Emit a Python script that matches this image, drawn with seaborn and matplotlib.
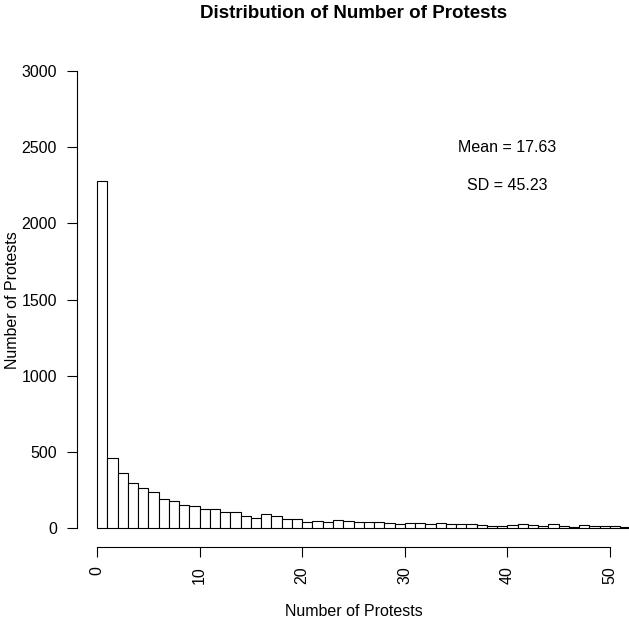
import numpy as np
import pandas as pd
import matplotlib
matplotlib.use("Agg")
import matplotlib.pyplot as plt
import seaborn as sns

# counts per one-unit bin, starting at 0
bin_left = list(range(0, 52))
counts = [2280, 460, 365, 295, 267, 236, 190, 179, 151, 144,
          127, 127, 105, 109, 83, 66, 93, 78, 59, 59,
          40, 47, 39, 53, 47, 44, 39, 39, 36, 29,
          32, 32, 31, 36, 27, 25, 25, 20, 14, 15,
          23, 28, 20, 14, 26, 17, 7, 20, 15, 13,
          13, 11]
mean_text = "Mean = 17.63"
sd_text = "SD = 45.23"

df = pd.DataFrame({"protests": [b + 0.5 for b in bin_left], "n": counts})

sns.set_style("ticks")
plt.rcParams["font.family"] = ["Liberation Sans", "DejaVu Sans"]
plt.rcParams["text.color"] = "black"
plt.rcParams["axes.labelcolor"] = "black"
plt.rcParams["xtick.color"] = "black"
plt.rcParams["ytick.color"] = "black"

W, H = 629, 624
fig = plt.figure(figsize=(W / 100, H / 100), dpi=100)
# plot region in pixels: left 76.5, right 630.5, top 52.7, bottom 546.6
ax = fig.add_axes([76.5 / W, 1 - 546.6 / H, (630.5 - 76.5) / W, (546.6 - 52.7) / H])

sns.histplot(data=df, x="protests", weights="n", binwidth=1, binrange=(0, 52),
             color="white", edgecolor="black", linewidth=0.8, alpha=1, ax=ax)

ax.set_xlim(-2, 52)
ax.set_ylim(-120, 3120)
ax.set_xticks([0, 10, 20, 30, 40, 50])
ax.set_yticks([0, 500, 1000, 1500, 2000, 2500, 3000])
ax.spines["left"].set_bounds(0, 3000)
ax.spines["bottom"].set_bounds(0, 50)
for s in ["top", "right"]:
    ax.spines[s].set_visible(False)
for s in ["left", "bottom"]:
    ax.spines[s].set_linewidth(0.8)
    ax.spines[s].set_color("black")
ax.tick_params(axis="both", length=7.2, width=0.8, color="black", labelsize=11.5)
ax.tick_params(axis="x", rotation=90, pad=7)
ax.tick_params(axis="y", pad=7)
ax.set_xlabel("")
ax.set_ylabel("")

cx = (76.5 + 630.5) / 2 / W
fig.text(cx, 1 - 13 / H, "Distribution of Number of Protests", ha="center",
         va="center", fontsize=13.5, fontweight="bold")
fig.text(cx, 1 - 612 / H, "Number of Protests", ha="center", va="center",
         fontsize=11.5)
fig.text(12.7 / W, 1 - 300 / H, "Number of Protests", ha="center", va="center",
         rotation=90, fontsize=11.5)

ax.text(40, 2500, mean_text, ha="center", va="center", fontsize=11.5)
ax.text(40, 2250, sd_text, ha="center", va="center", fontsize=11.5)

fig.savefig("out.png", dpi=100)
